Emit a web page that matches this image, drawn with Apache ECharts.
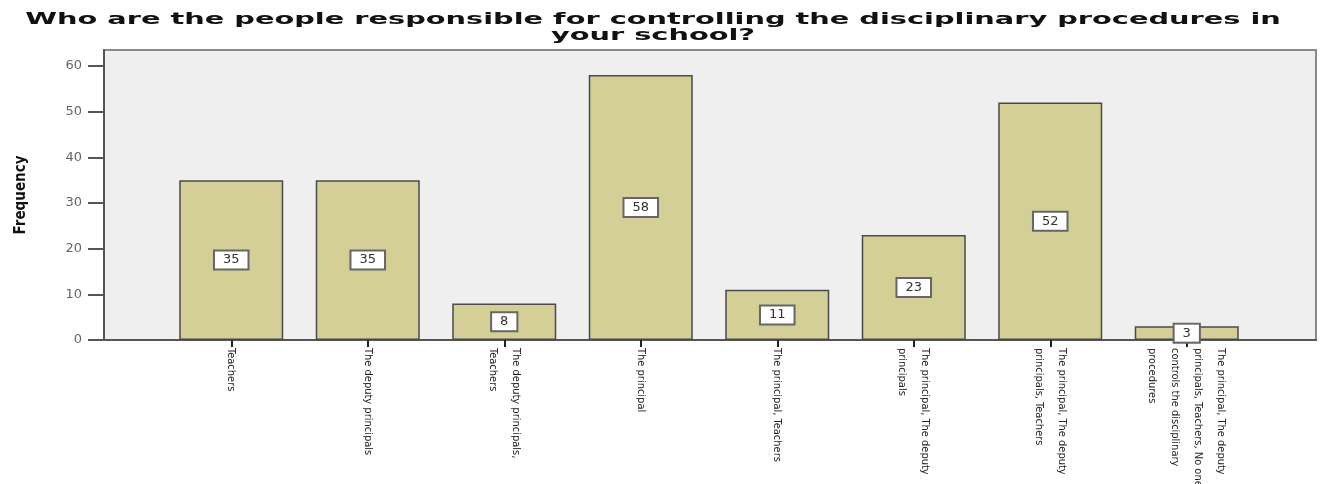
<!DOCTYPE html>
<html>
<head>
<meta charset="utf-8">
<script src="https://cdn.jsdelivr.net/npm/echarts@6/dist/echarts.min.js"></script>
<style>
  html, body { margin: 0; padding: 0; background: #fff; }
  #main { width: 1325px; height: 484px; }
</style>
</head>
<body>
<div id="main"></div>
<script>
// data
var categories = [
  'Teachers',
  'The deputy principals',
  'The deputy principals,\nTeachers',
  'The principal',
  'The principal, Teachers',
  'The principal, The deputy\nprincipals',
  'The principal, The deputy\nprincipals, Teachers',
  'The principal, The deputy\nprincipals, Teachers, No one\ncontrols the disciplinary\nprocedures'
]
var frequency = [35, 35, 8, 58, 11, 23, 52, 3]
var yTicks = [0, 10, 20, 30, 40, 50, 60]
var titleText = 'Who are the people responsible for controlling the disciplinary procedures in\nyour school?'

var narrow = "'Liberation Sans Narrow', 'DejaVu Sans Condensed', 'Arial Narrow', sans-serif"
var myChart = echarts.init(document.getElementById('main'))

var option = {
    animation: false,
    backgroundColor: '#fff',
    graphic: [
        {
            // SPSS title is stretched wide, so scale it horizontally
            type: 'text',
            x: 653,
            y: 12,
            scaleX: 1.8,
            style: {
                x: 0,
                y: 0,
                text: titleText,
                font: 'bold 16px "DejaVu Sans", sans-serif',
                fill: '#111',
                align: 'center',
                verticalAlign: 'top',
                lineHeight: 16
            }
        }
    ],
    grid: [
        // grey plot frame
        { left: 104, right: 9, top: 50, bottom: 144, outerBoundsMode: 'none', show: true, backgroundColor: '#efefef', borderColor: '#8a8a8a', borderWidth: 2 },
        // bars sit inside with margins like SPSS
        { left: 163, right: 70, top: 50, bottom: 144, outerBoundsMode: 'none' }
    ],
    xAxis: [
        {
            gridIndex: 0,
            type: 'value',
            min: 0,
            max: 1,
            axisLine: { show: true, onZero: false, lineStyle: { color: '#555', width: 2 } },
            axisTick: { show: false },
            axisLabel: { show: false },
            splitLine: { show: false }
        },
        {
            gridIndex: 1,
            type: 'category',
            data: categories,
            axisLine: { show: false },
            axisTick: { show: true, alignWithLabel: true, length: 7, lineStyle: { color: '#222', width: 2 } },
            axisLabel: {
                rotate: -90,
                interval: 0,
                margin: 8,
                fontFamily: narrow,
                fontSize: 11,
                lineHeight: 23,
                color: '#222'
            }
        }
    ],
    yAxis: [
        {
            gridIndex: 0,
            type: 'value',
            min: 0,
            max: 63.5,
            interval: 10,
            name: 'Frequency',
            nameLocation: 'middle',
            nameRotate: 90,
            nameGap: 75,
            nameTextStyle: { fontFamily: narrow, fontWeight: 'bold', fontSize: 15, color: '#111' },
            axisLine: { show: true, lineStyle: { color: '#555', width: 2 } },
            axisTick: { show: true, length: 16, customValues: yTicks, lineStyle: { color: '#555', width: 2 } },
            axisLabel: { customValues: yTicks, fontFamily: 'DejaVu Sans', fontSize: 13, color: '#666', margin: 22 },
            splitLine: { show: false }
        },
        {
            gridIndex: 1,
            type: 'value',
            min: 0,
            max: 63.5,
            show: false,
            splitLine: { show: false }
        }
    ],
    series: [
        {
            type: 'bar',
            xAxisIndex: 1,
            yAxisIndex: 1,
            data: frequency,
            barWidth: 104,
            itemStyle: { color: '#d4cf96', borderColor: '#4a4a4a', borderWidth: 1.5 },
            label: {
                show: true,
                position: 'inside',
                fontFamily: 'DejaVu Sans',
                fontSize: 13,
                color: '#333',
                backgroundColor: '#fff',
                borderColor: '#666',
                borderWidth: 2,
                padding: [2, 8]
            }
        }
    ]
}
myChart.setOption(option)
</script>
</body>
</html>
